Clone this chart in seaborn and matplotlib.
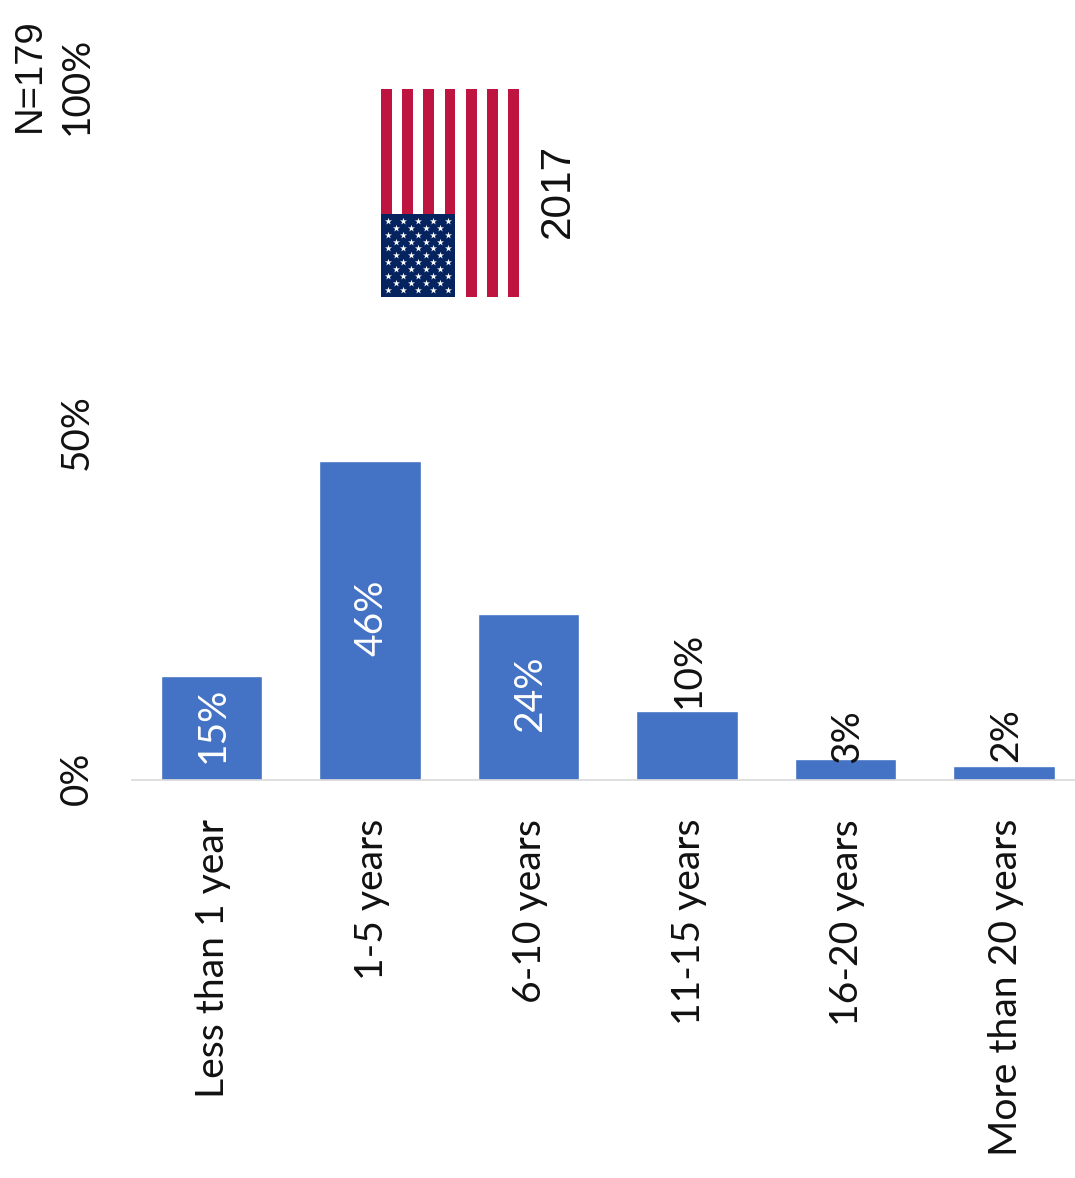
import matplotlib
matplotlib.use("Agg")
import matplotlib.pyplot as plt
from matplotlib.patches import Rectangle
from matplotlib.transforms import ScaledTranslation
import pandas as pd
import seaborn as sns

categories = ["Less than 1 year", "1-5 years", "6-10 years", "11-15 years",
              "16-20 years", "More than 20 years"]
shares = [15, 46, 24, 10, 3, 2]
y_ticks = [0, 50, 100]
sample_label = "N=179"
year_label = "2017"

BAR = "#4472C4"
RED = "#BD1540"
NAVY = "#04235F"
INK = "#111111"
W, H = 1075, 1178
DPI = 100

sns.set_theme(style="white")
plt.rcParams["font.family"] = ["Lato", "DejaVu Sans"]

fig = plt.figure(figsize=(W / DPI, H / DPI), dpi=DPI, facecolor="white")


def px_axes(left, top, right, bottom):
    return fig.add_axes([left / W, 1 - bottom / H, (right - left) / W, (bottom - top) / H])


def px_shift(dx, dy):
    return ScaledTranslation(dx / DPI, dy / DPI, fig.dpi_scale_trans)


ax = px_axes(132, 87.5, 1075, 780)
df = pd.DataFrame({"tenure": categories, "share": shares})
sns.barplot(data=df, x="tenure", y="share", color=BAR, saturation=1, width=0.64, ax=ax)
ax.set_xlim(-0.5, 5.448)
ax.set_ylim(0, 100)
ax.set_xlabel("")
ax.set_ylabel("")
sns.despine(ax=ax, left=True, top=True, right=True)
ax.spines["bottom"].set_color("#D9D9D9")
ax.spines["bottom"].set_linewidth(1.2)
ax.patch.set_alpha(0)

ax.set_yticks(y_ticks)
ax.set_yticklabels([f"{v}%" for v in y_ticks], rotation=90, va="center", fontsize=27.8, color=INK)
ax.tick_params(axis="y", length=0, pad=27)
for label in ax.get_yticklabels():
    label.set_transform(label.get_transform() + px_shift(0, 2))
ax.set_xticks(range(len(categories)))
ax.set_xticklabels(categories, rotation=90, fontsize=28.2, color=INK)
ax.tick_params(axis="x", length=0, pad=28)
for label in ax.get_xticklabels():
    label.set_transform(label.get_transform() + px_shift(2, 0))

# Values sit inside the taller bars and just above the short ones;
# the short-bar labels get a small vertical nudge in pixels.
nudge = {10: 3, 3: -4, 2: 4}
for i, v in enumerate(shares):
    if v >= 15:
        ax.text(i, v / 2, f"{v}%", rotation=90, ha="center", va="center", color="white",
                fontsize=28, transform=ax.transData + px_shift(2, 3))
    else:
        ax.text(i, v, f"{v}%", rotation=90, ha="center", va="bottom", color=INK,
                fontsize=28, transform=ax.transData + px_shift(2, nudge[v]))

fig.text(30 / W, 1 - 75 / H, sample_label, rotation=90, ha="center", va="center",
         fontsize=27.5, family=["Liberation Sans"], color=INK)
fig.text(558 / W, 1 - 191 / H, year_label, rotation=90, ha="center", va="center",
         fontsize=30.5, family=["Liberation Sans"], color=INK)

# Flag turned on its side: stripes run vertically, canton at the lower left.
flag = px_axes(381, 89, 519, 297)
flag.set_xlim(0, 13)
flag.set_ylim(0, 1)
flag.axis("off")
for s in range(0, 13, 2):
    flag.add_patch(Rectangle((s, 0), 1, 1, color=RED, lw=0))
flag.add_patch(Rectangle((0, 0), 7, 0.4, color=NAVY, lw=0))
star_x, star_y = [], []
for c in range(9):
    for r in range(11):
        if (c + r) % 2 == 0:
            star_x.append((c + 1) * 7 / 10)
            star_y.append((r + 1) * 0.4 / 12)
flag.scatter(star_x, star_y, marker="*", s=28, color="white", linewidths=0, zorder=3)

fig.savefig("out.png", dpi=DPI)
